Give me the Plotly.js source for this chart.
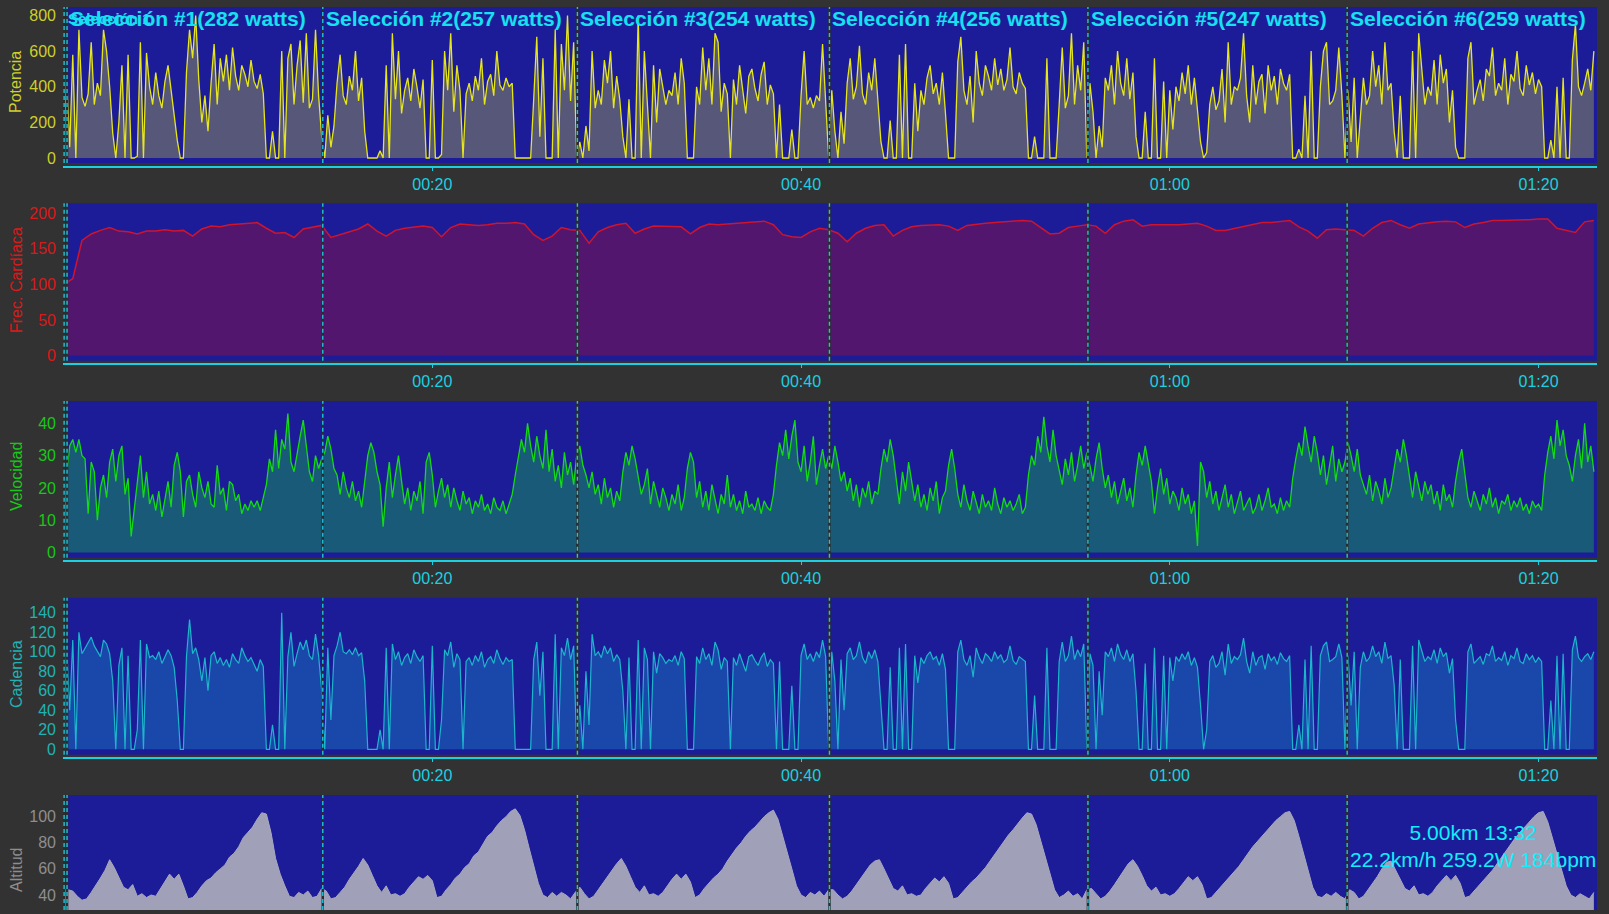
<!DOCTYPE html>
<html>
<head>
<meta charset="utf-8">
<script src="https://cdn.plot.ly/plotly-3.0.1.min.js"></script>
<style>
  html, body { margin: 0; padding: 0; background: #323232; overflow: hidden; }
  #chart { width: 1609px; height: 914px; }
</style>
</head>
<body>
<div id="chart"></div>
<script>
// ---- Ride data -----------------------------------------------------------
// Power, speed and cadence are logged every 10 s, heart rate every 30 s,
// altitude every 15 s.
const POWER_STEP_S = 10;
const HR_STEP_S = 30;
const ALT_STEP_S = 15;

const powerW = [
  // lap 1
  0,470,60,580,0,720, 340,290,360,650,300,420,350,720, 600,400,140,0,200,520,0,580,
  0,0,10,650,0,590, 400,300,480,350,280,430,520,380, 210,100,0,0,
  480,720,560,800,440,200,350,150,420, 640,300,560,430,580,380,620,
  460,380,520,470,400,550,430,390,470,360, 0,0,150,0,0,600,0,
  560,640,300,520,660, 310,700,280,330,720,350,
  // lap 2
  120,0,240,60,180, 420,580,350,300,460,380,600,320,450, 150,0,0,0,0,40,
  0,520,0,700,330,600,250, 380,450,320,500,400,280,440, 0,0,550,0,0,20,
  600,380,700,260,520,380, 0,360,420,320,460,380,560,300,430,470,350,600,410,380,450,400,420,
  0,0,0,0,0,0, 330,680,120,560,0,0, 0,720,0,640,380,800,320,650,
  // lap 3
  0,90,0,180,40, 600,280,380,300,550,420,600,280,460,330, 120,0,330,0,0,800,0,
  600,300,0,520,200,500,400,300,380, 350,480,300,560,420,0,0,0,
  400,300,620,380,560,300,700,650,260,420,
  360,0,440,300,520,380,250,460,500,390,320,470,540,300,410,360,
  0,300,0,0,0,160,0,0, 350,600,300,340,280,350,320,640,330,
  // lap 4
  0,380,150,0,260,80, 420,560,330,400,630,360,300,480,380,560,340, 90,0,0,210,0,0,
  580,0,640,0,0,420,150, 380,300,450,520,360,420,300,480,250, 0,0,0,
  540,680,380,300,460,200,600,420,350,520,460,380,560,410,500,380,440,620,400,360,480,420,390,
  0,0,120,0,0,0,560,0,0,0,300, 620,280,350,700,300,520,380,650,
  // lap 5
  0,420,260,0,180,60, 450,380,520,300,600,420,350,560,330,480, 120,0,0,260,0,0,
  560,0,0,430,0,380,160, 400,320,480,360,520,300,450,260, 90,0,30,
  300,400,270,320,500,200,650,300,400,380,450,700,350,200,520,300,430,470,250,520,380,460,300,500,420,380,470,
  0,0,50,0,350,0,600,0,0, 400,600,650,300,320,380,620,350,
  // lap 6
  0,380,90,450,0,220, 450,300,350,600,400,520,300,650,380,420, 150,0,350,0,0,0,
  600,0,700,500,300,400,350, 550,300,580,420,500,200,380,60, 0,0,0,
  560,650,300,380,440,320,500,460,620,350,420,380,560,300,470,430,600,390,350,520,410,480,360,440,400,
  0,0,100,0,400,0,450,0,0, 550,750,400,350,420,500,380,600
];

const speedKmh = [
  // lap 1
  0,24,33,35,31,35,30, 29,12,28,25,10,20,24,17, 28,32,22,30,33,18,23,
  5,14,22,30,17,25, 15,18,13,19,11,16,22,14, 27,31,25,11,
  22,24,18,14,25,20,17,22,15, 14,27,18,20,13,22,21,
  16,18,12,15,13,16,14,16,13,17, 21,29,25,38,26,35,32,
  43,28,25,31,36, 41,33,25,22,30,26,
  // lap 2
  29,31,36,32,26, 24,18,25,20,17,22,16,19,14, 22,30,34,31,25,21,
  8,20,28,17,24,30,22, 15,20,13,19,16,22,12, 28,31,24,14,19,23,
  17,21,14,20,16,13, 19,15,17,12,16,14,18,13,15,12,17,14,13,16,12,15,18,
  24,29,35,31,40,33, 28,36,30,26,38,25, 32,22,27,20,31,24,28,21,
  // lap 3
  30,33,27,24,20, 25,18,21,15,23,17,20,14,19,16, 25,31,27,33,29,24,18,
  21,26,15,22,18,14,20,17,13, 18,15,21,13,17,26,31,28,
  17,22,14,19,13,21,16,12,18,15,
  24,14,18,13,16,12,19,14,15,13,17,12,16,14,13,18,
  27,34,30,38,29,36,41,28, 25,33,22,28,36,21,27,32,26,
  // lap 4
  30,26,33,28,22,25, 19,23,16,21,14,20,17,22,15,19,18, 26,32,28,35,30,23,
  15,25,19,28,22,16,21, 14,18,13,20,16,22,12,17,19, 27,32,26,
  18,14,21,16,13,19,15,12,18,14,16,13,20,15,12,17,14,16,13,15,18,12,14,
  24,30,27,36,31,42,33,28,38,30,25, 21,29,24,31,22,27,33,26,
  // lap 5
  31,27,22,29,34,26, 20,24,17,22,15,19,23,16,20,14, 24,31,27,33,28,22,
  12,20,26,18,23,15,19, 17,13,20,15,18,12,16,2, 28,25,17,
  22,15,19,13,17,21,14,18,12,16,19,13,15,17,12,14,18,13,16,20,14,15,12,17,13,16,14,
  23,29,34,30,39,33,28,36,31, 24,30,21,27,33,22,29,25,
  // lap 6
  28,34,30,25,32,24, 21,18,24,16,22,19,15,23,17,20, 26,32,28,35,30,24,
  17,25,20,16,22,18,21, 15,19,13,21,16,18,14,22, 28,32,25,
  17,14,19,16,13,18,15,20,14,17,12,16,15,18,13,16,14,17,13,15,12,16,14,15,13,
  24,31,36,29,41,33,38,30,27, 22,30,35,26,40,28,33,25
];

const cadenceRpm = [
  // lap 1
  0,108,40,112,0,120, 98,104,110,115,106,100,95,112, 108,98,70,0,86,104,0,96,
  0,0,20,112,0,108, 94,96,92,100,88,95,102,96, 84,50,0,0,
  95,133,98,104,92,70,94,60,96, 100,88,94,86,92,84,98,
  92,88,104,96,90,94,86,80,92,85, 0,0,25,0,0,140,0,
  95,120,85,98,110, 102,112,96,92,118,96,
  // lap 2
  60,0,104,30,96, 106,120,100,98,102,97,104,96,99, 70,0,0,0,0,20,
  0,104,0,108,92,100,86, 94,98,88,102,95,90,96, 0,0,106,0,0,30,
  102,96,110,84,98,92, 0,90,94,86,96,90,100,84,92,95,88,102,93,87,94,90,92,
  0,0,0,0,0,0, 92,110,55,100,0,0, 0,118,0,104,96,114,92,106,
  // lap 3
  0,45,0,80,25, 118,96,100,94,106,98,104,90,97,92, 60,0,94,0,0,112,0,
  104,92,0,100,78,98,94,88,92, 90,96,86,100,93,0,0,0,
  95,88,104,92,98,86,110,102,82,94,
  90,0,94,86,98,90,80,95,97,91,86,94,99,85,92,88,
  0,90,0,0,0,65,0,0, 96,108,92,98,90,100,94,112,95,
  // lap 4
  0,100,70,0,92,40, 98,104,92,96,110,94,88,100,93,102,90, 45,0,0,84,0,0,
  104,0,108,0,0,96,68, 94,88,96,100,92,95,86,98,82, 0,0,0,
  100,112,92,86,96,74,104,94,88,98,95,90,100,93,97,89,92,106,91,87,95,92,90,
  0,0,55,0,0,0,104,0,0,0,90, 110,90,96,116,92,102,95,108,
  // lap 5
  0,98,86,0,80,35, 100,95,104,90,108,97,92,102,90,98, 60,0,0,88,0,0,
  104,0,0,96,0,94,70, 95,90,98,92,100,86,94,84, 45,0,20,
  90,96,84,88,100,76,108,88,95,92,97,114,90,78,100,86,94,96,82,98,91,95,87,99,93,90,96,
  0,0,25,0,92,0,106,0,0, 96,106,110,90,92,95,108,94,
  // lap 6
  0,96,45,100,0,84, 100,90,94,106,95,100,88,110,93,96, 66,0,92,0,0,0,
  106,0,112,100,90,95,92, 102,88,104,95,99,78,93,30, 0,0,0,
  100,108,88,92,95,87,98,96,106,90,94,91,100,86,96,93,104,90,88,98,92,96,89,94,90,
  0,0,50,0,96,0,98,0,0, 102,116,94,90,95,98,92,100
];

const heartRateBpm = [
  100,108,162,171,176,180,175,174,171,175,
  175,177,175,176,168,178,182,181,184,185,
  185,187,179,172,173,166,178,181,183,166,
  170,175,178,185,175,168,176,179,180,182,
  180,167,180,185,184,183,184,186,186,187,
  185,170,162,168,180,177,176,158,174,180,
  184,186,172,178,182,182,181,181,171,180,
  185,184,185,186,187,188,189,184,170,167,
  166,174,179,177,172,160,172,179,183,184,
  168,176,181,183,184,184,182,176,183,185,
  186,187,188,189,190,189,180,171,172,180,
  182,184,182,172,184,189,191,182,184,184,
  183,184,185,186,182,176,176,179,182,185,
  187,187,188,190,181,175,165,177,178,177,
  176,168,179,187,190,184,179,185,187,188,
  189,188,180,185,187,190,190,190,191,191,
  192,192,179,176,173,188,190
];

const altitudeM = [
  // lap 1
  44,44,43,39,36,37,42,47,53,59,67,61,54,46,44,48,39,41,38,40,39,45,50,56,52,56,47,37,
  38,42,47,51,53,57,60,63,69,72,77,84,88,92,98,103,102,88,68,56,47,39,38,42,40,43,38,39,
  // lap 2
  45,43,37,38,42,46,52,57,62,68,63,55,47,42,47,40,41,39,41,46,50,54,52,55,51,38,39,44,
  48,53,56,61,64,70,73,79,85,88,93,97,100,104,106,101,90,76,63,49,40,38,42,39,42,40,37,42,
  // lap 3
  46,41,37,39,44,49,54,59,64,68,62,54,46,42,47,40,41,39,42,47,52,56,52,56,50,38,40,45,
  49,53,56,60,66,71,76,80,85,89,92,96,100,103,105,98,86,72,60,47,40,38,42,40,43,39,44,
  // lap 4
  44,40,37,39,43,48,53,58,63,66,67,60,52,45,43,47,40,41,39,40,45,49,53,50,54,49,37,38,
  42,46,50,53,57,61,66,71,76,81,86,90,95,99,103,102,94,82,69,56,44,38,40,43,39,41,37,44,
  // lap 5
  45,41,37,39,43,48,53,59,64,67,62,55,47,43,46,40,41,39,41,45,50,54,51,54,48,37,38,42,
  46,50,54,58,62,67,72,77,81,85,89,93,97,100,103,104,97,85,72,59,46,39,38,41,39,42,39,37,
  // lap 6
  44,42,37,39,44,49,54,60,65,66,59,52,45,43,47,40,41,39,42,47,51,55,51,55,49,38,39,43,
  47,51,55,59,64,69,74,79,84,88,92,96,100,103,104,96,84,71,58,47,40,38,41,39,37,42
];

// Lap markers (minutes from start) and lap averages
const markerMinutes = [0.03, 0.19, 14.06, 27.87, 41.54, 55.56, 69.62];
const markerLabels = ["Selección 1", "Selección #1", "Selección #2", "Selección #3",
                      "Selección #4", "Selección #5", "Selección #6"];
const markerWatts = [null, 282, 257, 254, 256, 247, 259];

// Time axis ticks
const tickMinutes = [20, 40, 60, 80];
const tickLabels = ["00:20", "00:40", "01:00", "01:20"];

// Summary of the highlighted interval
const summaryDistance = "5.00km";
const summaryTime = "13:32";
const summarySpeed = "22.2km/h";
const summaryPower = "259.2W";
const summaryHeartRate = "184bpm";

// ---- Layout geometry ----------------------------------------------------
const W = 1609, H = 914;
const ML = 63, MR = 12;
const FONT = "Liberation Sans, Arial, sans-serif";
const NAVY = "#1c1c98";
const CYAN = "#1ad0e2";
const X_RANGE = [-0.03, 83.17];
const py = p => 1 - p / H;             // pixel row -> paper y
const px = p => (p - ML) / (W - ML - MR); // pixel column -> paper x

const panels = [
  { title: "Potencia", y: powerW, step: POWER_STEP_S, tick: [0,200,400,600,800],
    range: [-44.9, 847.7], top: 7, bgBottom: 163, axis: 166, titleY: 82,
    text: "#cfcf2a", line: "#e6e61c", fill: "#57577a", lw: 1.3 },
  { title: "Frec. Cardíaca", y: heartRateBpm, step: HR_STEP_S, tick: [0,50,100,150,200],
    range: [-10.1, 214.1], top: 203.3, bgBottom: 360.7, axis: 362.7, titleY: 280,
    text: "#d81a1a", line: "#d0142c", fill: "#53166f", lw: 1.5 },
  { title: "Velocidad", y: speedKmh, step: POWER_STEP_S, tick: [0,10,20,30,40],
    range: [-2.32, 46.9], top: 401, bgBottom: 557.7, axis: 560, titleY: 477,
    text: "#18c818", line: "#12dc12", fill: "#185a78", lw: 1.3 },
  { title: "Cadencia", y: cadenceRpm, step: POWER_STEP_S, tick: [0,20,40,60,80,100,120,140],
    range: [-7.58, 155.4], top: 597.7, bgBottom: 754.7, axis: 756.7, titleY: 674,
    text: "#20b2b4", line: "#1cb6cc", fill: "#1a48aa", lw: 1.2 },
  { title: "Altitud", y: altitudeM, step: ALT_STEP_S, tick: [40,60,80,100],
    range: [28.5, 116.6], top: 795, bgBottom: 910, axis: 910, titleY: 870,
    text: "#8e8e8e", line: "#a8a8c0", fill: "#a0a0b8", lw: 1 }
];

const clock = (n, stepS) => Array.from({ length: n }, (_, i) => i * stepS / 60);

const traces = [];
const layout = {
  width: W, height: H,
  margin: { l: ML, r: MR, t: 0, b: 0 },
  paper_bgcolor: "#323232",
  plot_bgcolor: "rgba(0,0,0,0)",
  showlegend: false,
  font: { family: FONT, size: 16 },
  shapes: [],
  annotations: []
};

panels.forEach((p, k) => {
  const sfx = k === 0 ? "" : String(k + 1);
  const last = k === panels.length - 1;
  traces.push({
    type: "scatter", mode: "lines",
    x: clock(p.y.length, p.step), y: p.y,
    xaxis: "x" + sfx, yaxis: "y" + sfx,
    fill: "tozeroy", fillcolor: p.fill,
    line: { color: p.line, width: p.lw },
    hoverinfo: "skip"
  });

  layout["xaxis" + sfx] = {
    domain: [0, 1], range: X_RANGE, anchor: "y" + sfx,
    showgrid: false, zeroline: false,
    showline: !last, linecolor: CYAN, linewidth: 2,
    ticks: last ? "" : "outside", ticklen: 3, tickcolor: CYAN, tickwidth: 1,
    tickvals: tickMinutes, ticktext: tickLabels,
    showticklabels: !last,
    tickfont: { family: FONT, size: 16, color: CYAN },
    fixedrange: true
  };
  layout["yaxis" + sfx] = {
    domain: [py(p.axis), py(p.top)], range: p.range, anchor: "x" + sfx,
    showgrid: false, zeroline: false, showline: false, ticks: "",
    tickvals: p.tick, ticklabelstandoff: 6,
    tickfont: { family: FONT, size: 16, color: p.text },
    fixedrange: true
  };

  // panel background
  layout.shapes.push({
    type: "rect", layer: "below", xref: "paper", yref: "paper",
    x0: 0, x1: 1, y0: py(p.bgBottom), y1: py(p.top),
    fillcolor: NAVY, line: { width: 0 }
  });

  // lap markers
  markerMinutes.forEach(m => {
    layout.shapes.push({
      type: "line", layer: "above", xref: "x" + sfx, yref: "paper",
      x0: m, x1: m, y0: py(p.bgBottom), y1: py(p.top),
      line: { color: "#2c2c2c", width: 2.5 }
    });
    layout.shapes.push({
      type: "line", layer: "above", xref: "x" + sfx, yref: "paper",
      x0: m, x1: m, y0: py(p.bgBottom), y1: py(p.top),
      line: { color: "#20c4d8", width: 1.4, dash: "4px,3px" }
    });
  });

  // axis title
  layout.annotations.push({
    xref: "paper", yref: "paper", x: px(16), y: py(p.titleY),
    xanchor: "center", yanchor: "middle", textangle: -90, showarrow: false,
    text: p.title, font: { family: FONT, size: 16, color: p.text }
  });
});

// lap labels across the top panel
markerMinutes.forEach((m, i) => {
  const txt = markerWatts[i] === null ? markerLabels[i]
            : markerLabels[i] + "(" + markerWatts[i] + " watts)";
  layout.annotations.push({
    xref: "x", yref: "paper", x: m, y: py(18),
    xanchor: "left", yanchor: "middle", xshift: i === 0 ? 2 : 1, showarrow: false,
    text: "<b>" + txt + "</b>",
    font: { family: FONT, size: i === 0 ? 15 : 21, color: "#16e0f2" }
  });
});

// interval summary
layout.annotations.push({
  xref: "paper", yref: "paper", x: px(1473), y: py(846),
  xanchor: "center", yanchor: "middle", align: "center", showarrow: false,
  text: summaryDistance + " " + summaryTime + "<br>" +
        summarySpeed + " " + summaryPower + " " + summaryHeartRate,
  font: { family: FONT, size: 21, color: "#12eefa" }
});

Plotly.newPlot("chart", traces, layout, { staticPlot: true, displayModeBar: false });
</script>
</body>
</html>
